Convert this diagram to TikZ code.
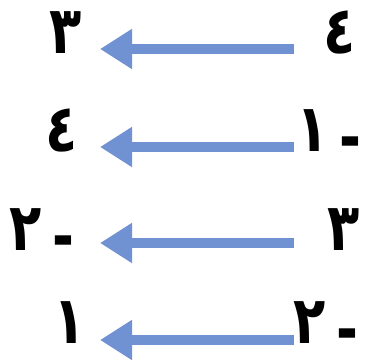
\documentclass[tikz,border=0pt]{standalone}
\usepackage{fontspec}
\newfontfamily\arabicfont[Script=Arabic,FakeStretch=0.8]{DejaVu Sans}
\TeXXeTstate=1
\usepackage{xcolor}
\usetikzlibrary{arrows.meta}
\definecolor{arrowblue}{RGB}{112,146,210}
\newcommand{\lowdash}{\raisebox{-9pt}{-}}

\begin{document}
\begin{tikzpicture}[x=1pt,y=-1pt,
  num/.style={font=\arabicfont\bfseries\fontsize{66}{78}\selectfont,
              inner sep=0pt, anchor=base},
  arr/.style={draw=arrowblue, line width=10pt,
              -{Triangle[length=32pt,width=38pt]}}
]
  \useasboundingbox (0,0) rectangle (366,363);
  % right column: start values
  \node[num] (r1) at (340,54)  {\beginR ٤\endR};
  \node[num] (r2) at (329,152) {\beginR \lowdash\,١\endR};
  \node[num] (r3) at (344,250) {\beginR ٣\endR};
  \node[num] (r4) at (326,343) {\beginR \lowdash\,٢\endR};
  % left column: results
  \node[num] (l1) at (66,54)   {\beginR ٣\endR};
  \node[num] (l2) at (62,152)  {\beginR ٤\endR};
  \node[num] (l3) at (42,250)  {\beginR \lowdash\,٢\endR};
  \node[num] (l4) at (70,343)  {\beginR ١\endR};
  % arrow ends
  \coordinate (s1) at (294,49);  \coordinate (t1) at (100,49);
  \coordinate (s2) at (294,147); \coordinate (t2) at (100,147);
  \coordinate (s3) at (294,243); \coordinate (t3) at (100,243);
  \coordinate (s4) at (294,340); \coordinate (t4) at (100,340);
  \draw[arr] (s1) -- (t1);
  \draw[arr] (s2) -- (t2);
  \draw[arr] (s3) -- (t3);
  \draw[arr] (s4) -- (t4);
\end{tikzpicture}
\end{document}
